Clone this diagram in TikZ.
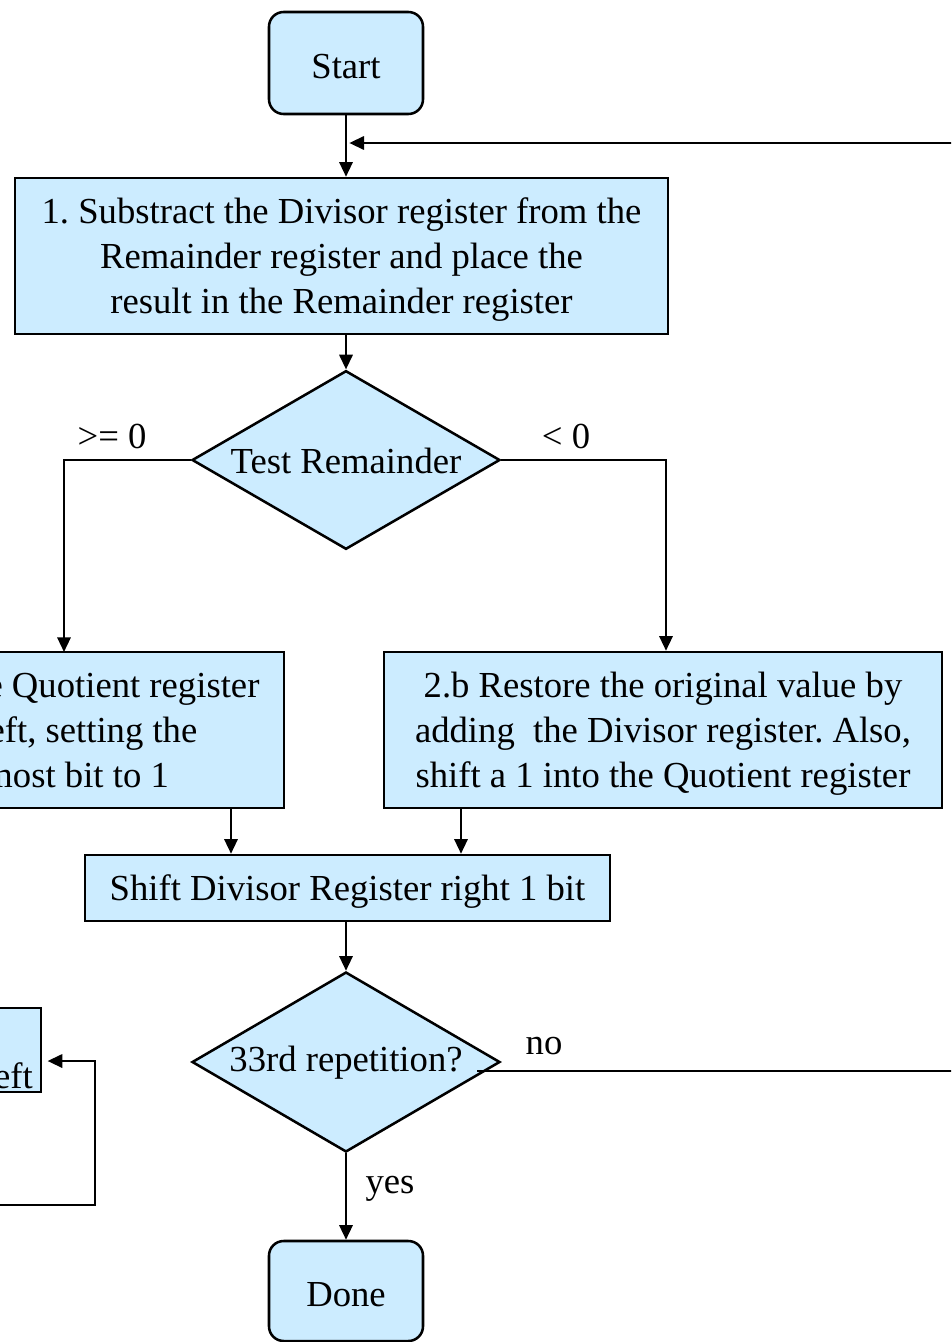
\documentclass[tikz,border=0pt]{standalone}
\usepackage{fontspec}
\setmainfont{Liberation Serif}
\usetikzlibrary{shapes.geometric,arrows.meta}
\definecolor{boxfill}{RGB}{204,236,255}
\newcommand\mytopstrut{\rule{0pt}{24pt}}
\frenchspacing
\begin{document}
\begin{tikzpicture}[x=0.75pt,y=-0.75pt,
  every node/.style={font=\fontsize{27.5}{33.75}\selectfont},
  proc/.style={draw,line width=1.9pt,fill=boxfill,rectangle,inner sep=0pt,align=center},
  term/.style={draw,line width=1.9pt,fill=boxfill,rounded corners=11pt,inner sep=0pt},
  decide/.style={draw,line width=1.9pt,fill=boxfill,diamond,aspect=1.73,inner sep=0pt,minimum width=231pt,minimum height=134pt},
  conn/.style={line width=1.7pt,-{Triangle[length=11pt,width=10pt]}},
  wire/.style={line width=1.7pt},
  lbl/.style={inner sep=0pt}]
\useasboundingbox (0,0) rectangle (951,1342);
\clip (0,0) rectangle (951,1342);
% nodes
\node[term,minimum width=115.5pt,minimum height=76.5pt] (start) at (346,63) {\mytopstrut Start};
\node[proc,minimum width=489.75pt,minimum height=117pt] (s1) at (341.5,256)
  {\mytopstrut 1. Substract the Divisor register from the\\Remainder register and place the\\result in the Remainder register};
\node[decide] (test) at (346,460) {\rule{0pt}{20pt}Test Remainder};
\node[proc,minimum width=363pt,minimum height=117pt] (s2a) at (42,730)
  {\mytopstrut 2.a Shift the Quotient register\\to the left, setting the\\rightmost bit to 1};
\node[proc,minimum width=418.5pt,minimum height=117pt] (s2b) at (663,730)
  {\mytopstrut 2.b Restore the original value by\\adding\ \ the Divisor register. Also,\\shift a 1 into the Quotient register};
\node[proc,minimum width=393.75pt,minimum height=49.5pt] (shift) at (347.5,888)
  {\mytopstrut Shift Divisor Register right 1 bit};
\node[decide,minimum height=135pt] (rep) at (346,1062) {\rule{0pt}{20pt}33rd repetition?};
\node[term,minimum width=115.5pt,minimum height=75pt] (done) at (346,1291) {\mytopstrut Done};
\node[proc,minimum width=180pt,minimum height=63pt] (sl) at (-79,1050) {};
\node[lbl,anchor=base east] (sltext) at (33,1088) {left};
% labels
\node[lbl] (ge) at (112,436) {>= 0};
\node[lbl] (lt) at (566,436) {< 0};
\node[lbl] (no) at (544,1046) {no};
\node[lbl] (yes) at (390,1189) {yes};
% coordinates
\coordinate (loopin) at (960,143);
\coordinate (aL) at (64,652);
\coordinate (c2a) at (231,0);
\coordinate (c2b) at (461,0);
\coordinate (noStart) at (477,1071);
\coordinate (noEnd) at (960,1071);
\coordinate (lpA) at (-20,1205);
\coordinate (lpB) at (95,1205);
% connectors
\draw[conn] (start.south) -- (start.south |- s1.north);
\draw[conn] (loopin) -- ([xshift=2.5pt]loopin -| start.south);
\draw[conn] (s1.south -| test.north) -- (test.north);
\draw[conn] (test.west) -| (aL);
\draw[conn] (test.east) -| ([xshift=2.25pt]s2b.north);
\draw[conn] (s2a.south -| c2a) -- (shift.north -| c2a);
\draw[conn] (s2b.south -| c2b) -- (shift.north -| c2b);
\draw[conn] (shift.south -| rep.north) -- (rep.north);
\draw[conn] (rep.south) -- (done.north);
\draw[wire] (noStart) -- (noEnd);
\draw[conn,shorten >=4pt] (lpA) -- (lpB) |- ([yshift=-8.25pt]sl.east);
\end{tikzpicture}
\end{document}
